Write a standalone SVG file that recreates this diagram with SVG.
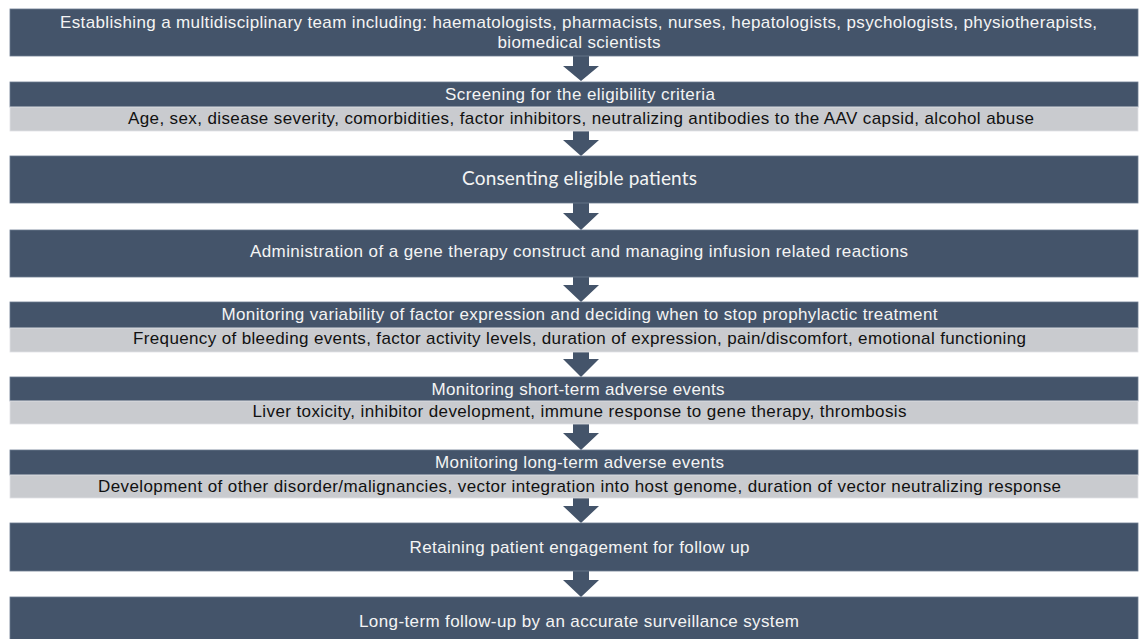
<svg xmlns="http://www.w3.org/2000/svg" width="1139" height="639" viewBox="0 0 1139 639">
<style>
.dk{fill:#44546A;stroke:#6b7a90;stroke-width:0.8}
.lt{fill:#C9CBCF;stroke:#e0e2e5;stroke-width:0.8}
.tw{font-family:"Liberation Sans",Arial,sans-serif;font-size:17px;fill:#F4F4F4;text-anchor:middle}
.tb{font-family:"Liberation Sans",Arial,sans-serif;font-size:17px;fill:#111111;text-anchor:middle}
.tc{font-family:Lato,"Open Sans",sans-serif;font-size:19px;fill:#F4F4F4;text-anchor:middle}
.ar{fill:#44546A}
</style>
<rect width="1139" height="639" fill="#ffffff"/>
<g id="connectors">
<path class="ar" d="M573,56 H589 V66 H599 L581,81 L563,66 H573 Z"/>
<path class="ar" d="M573,131 H589 V140 H599 L581,156 L563,140 H573 Z"/>
<path class="ar" d="M573,203 H589 V213 H599 L581,230 L563,213 H573 Z"/>
<path class="ar" d="M573,277 H589 V285 H599 L581,302 L563,285 H573 Z"/>
<path class="ar" d="M573,352 H589 V359 H599 L581,377 L563,359 H573 Z"/>
<path class="ar" d="M573,424 H589 V433 H599 L581,450 L563,433 H573 Z"/>
<path class="ar" d="M573,498 H589 V506 H599 L581,523 L563,506 H573 Z"/>
<path class="ar" d="M573,571 H589 V580 H599 L581,597 L563,580 H573 Z"/>
</g>
<g id="n1">
<rect class="dk" x="10" y="9" width="1128" height="47"/>
<text class="tw" x="578.5" y="28" textLength="1037" lengthAdjust="spacing">Establishing a multidisciplinary team including: haematologists, pharmacists, nurses, hepatologists, psychologists, physiotherapists,</text>
<text class="tw" x="579" y="48" textLength="163" lengthAdjust="spacing">biomedical scientists</text>
</g>
<g id="n2">
<rect class="dk" x="10" y="82" width="1128" height="25"/>
<rect class="lt" x="10" y="107" width="1128" height="24"/>
<text class="tw" x="580" y="100" textLength="270" lengthAdjust="spacing">Screening for the eligibility criteria</text>
<text class="tb" x="581" y="124" textLength="906" lengthAdjust="spacing">Age, sex, disease severity, comorbidities, factor inhibitors, neutralizing antibodies to the AAV capsid, alcohol abuse</text>
</g>
<g id="n3">
<rect class="dk" x="10" y="156" width="1128" height="47"/>
<text class="tc" x="579.5" y="185" textLength="235" lengthAdjust="spacing">Consenting eligible patients</text>
</g>
<g id="n4">
<rect class="dk" x="10" y="230" width="1128" height="47"/>
<text class="tw" x="579" y="257" textLength="658" lengthAdjust="spacing">Administration of a gene therapy construct and managing infusion related reactions</text>
</g>
<g id="n5">
<rect class="dk" x="10" y="302" width="1128" height="26"/>
<rect class="lt" x="10" y="328" width="1128" height="24"/>
<text class="tw" x="579.5" y="320" textLength="716" lengthAdjust="spacing">Monitoring variability of factor expression and deciding when to stop prophylactic treatment</text>
<text class="tb" x="579.5" y="344" textLength="893" lengthAdjust="spacing">Frequency of bleeding events, factor activity levels, duration of expression, pain/discomfort, emotional functioning</text>
</g>
<g id="n6">
<rect class="dk" x="10" y="377" width="1128" height="24"/>
<rect class="lt" x="10" y="401" width="1128" height="23"/>
<text class="tw" x="578" y="395" textLength="293" lengthAdjust="spacing">Monitoring short-term adverse events</text>
<text class="tb" x="579.5" y="417" textLength="654" lengthAdjust="spacing">Liver toxicity, inhibitor development, immune response to gene therapy, thrombosis</text>
</g>
<g id="n7">
<rect class="dk" x="10" y="450" width="1128" height="25"/>
<rect class="lt" x="10" y="475" width="1128" height="23"/>
<text class="tw" x="579.5" y="468" textLength="289" lengthAdjust="spacing">Monitoring long-term adverse events</text>
<text class="tb" x="579.5" y="492" textLength="963" lengthAdjust="spacing">Development of other disorder/malignancies, vector integration into host genome, duration of vector neutralizing response</text>
</g>
<g id="n8">
<rect class="dk" x="10" y="523" width="1128" height="48"/>
<text class="tw" x="579.5" y="553" textLength="340" lengthAdjust="spacing">Retaining patient engagement for follow up</text>
</g>
<g id="n9">
<rect class="dk" x="10" y="597" width="1128" height="44"/>
<text class="tw" x="579" y="627" textLength="440" lengthAdjust="spacing">Long-term follow-up by an accurate surveillance system</text>
</g>
</svg>
